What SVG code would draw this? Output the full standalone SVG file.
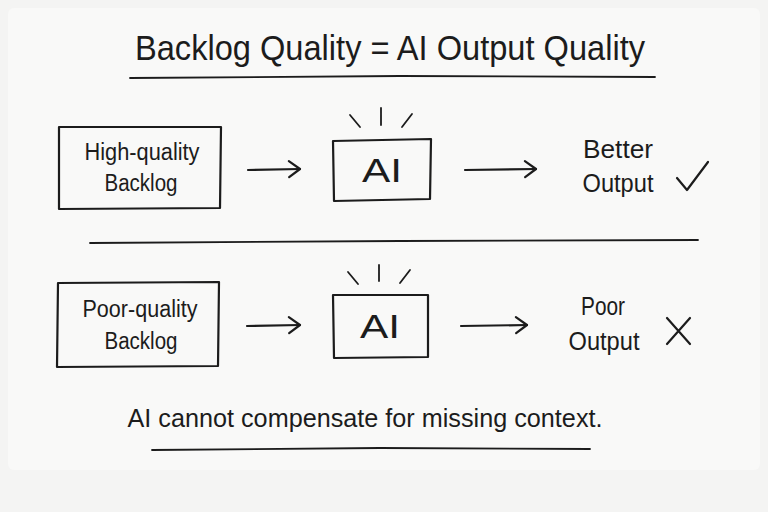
<svg xmlns="http://www.w3.org/2000/svg" width="768" height="512" viewBox="0 0 768 512">
  <defs>
    <style>
      .bg{fill:#f4f4f3}
      .panel{fill:#f9f9f8}
      .ink{fill:none;stroke:#1c1c1c;stroke-width:2.2;stroke-linecap:round;stroke-linejoin:round}
      .thin{fill:none;stroke:#1c1c1c;stroke-width:1.8;stroke-linecap:round}
      .t{font-family:"Liberation Sans","DejaVu Sans",sans-serif;fill:#1c1c1c;text-anchor:middle}
      .lbl{font-size:23px}
      .ai{font-size:34px}
      .out{font-size:26px}
    </style>
    <marker id="arr" markerUnits="userSpaceOnUse" markerWidth="16" markerHeight="20" refX="13" refY="10" orient="auto">
      <path d="M2,2 L13,10 L2,18" fill="none" stroke="#1c1c1c" stroke-width="2.2" stroke-linecap="round" stroke-linejoin="round"/>
    </marker>
  </defs>
  <rect class="bg" x="0" y="0" width="768" height="512"/>
  <rect class="panel" x="8" y="8" width="752" height="462" rx="6"/>

  <g id="title">
    <text class="t" x="390" y="60" font-size="35" textLength="510" lengthAdjust="spacingAndGlyphs">Backlog Quality = AI Output Quality</text>
    <path class="thin" d="M130,78 L400,76 L655,77"/>
  </g>

  <g id="high-backlog">
    <path class="ink" d="M59,127 L221,127 L220,208 L59,209 Z"/>
    <text class="t lbl" x="142" y="160" textLength="115" lengthAdjust="spacingAndGlyphs">High-quality</text>
    <text class="t lbl" x="141" y="191" textLength="73" lengthAdjust="spacingAndGlyphs">Backlog</text>
  </g>

  <g id="ai-top">
    <path class="ink" d="M333,141 L431,139 L430,199 L334,201 Z"/>
    <text class="t ai" x="382" y="182" textLength="40" lengthAdjust="spacingAndGlyphs">AI</text>
    <path class="thin" d="M350,115 L360,127 M381,108 L381,125 M412,114 L402,127"/>
  </g>

  <g id="better-output">
    <text class="t out" x="618" y="158" textLength="70" lengthAdjust="spacingAndGlyphs">Better</text>
    <text class="t out" x="618" y="192" textLength="71" lengthAdjust="spacingAndGlyphs">Output</text>
    <path class="ink" d="M677,178 L687,190 L708,162"/>
  </g>

  <g id="divider">
    <path class="thin" d="M90,243 L400,241 L698,240"/>
  </g>

  <g id="poor-backlog">
    <path class="ink" d="M58,283 L219,282 L218,366 L57,367 Z"/>
    <text class="t lbl" x="140" y="317" textLength="115" lengthAdjust="spacingAndGlyphs">Poor-quality</text>
    <text class="t lbl" x="141" y="349" textLength="73" lengthAdjust="spacingAndGlyphs">Backlog</text>
  </g>

  <g id="ai-bottom">
    <path class="ink" d="M333,295 L428,295 L428,357 L334,358 Z"/>
    <text class="t ai" x="380" y="338" textLength="40" lengthAdjust="spacingAndGlyphs">AI</text>
    <path class="thin" d="M348,272 L358,284 M379,265 L379,281 M410,270 L400,283"/>
  </g>

  <g id="poor-output">
    <text class="t out" x="603" y="315" textLength="44" lengthAdjust="spacingAndGlyphs">Poor</text>
    <text class="t out" x="604" y="350" textLength="71" lengthAdjust="spacingAndGlyphs">Output</text>
    <path class="ink" d="M667,318 L690,344 M690,318 L667,344"/>
  </g>

  <g id="connectors">
    <path class="ink" d="M248,170 L300,169" marker-end="url(#arr)"/>
    <path class="ink" d="M465,170 L536,169" marker-end="url(#arr)"/>
    <path class="ink" d="M247,326 L300,325" marker-end="url(#arr)"/>
    <path class="ink" d="M461,326 L527,325" marker-end="url(#arr)"/>
  </g>

  <g id="footer">
    <text class="t" x="365" y="427" font-size="26" textLength="475" lengthAdjust="spacingAndGlyphs">AI cannot compensate for missing context.</text>
    <path class="thin" d="M152,450 L380,448 L590,449"/>
  </g>
</svg>
